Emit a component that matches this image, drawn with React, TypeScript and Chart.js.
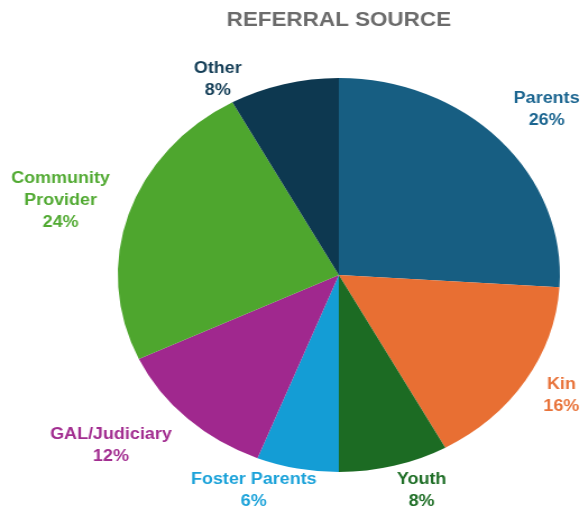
import React, { useEffect, useRef } from "react";
import { Chart, registerables } from "chart.js";

Chart.register(...registerables);

// ---- data ----
const categories = ["Parents", "Kin", "Youth", "Foster Parents", "GAL/Judiciary", "Community Provider", "Other"];
const shares = [26, 16, 8, 6, 12, 24, 8];
const labelLines = [["Parents"], ["Kin"], ["Youth"], ["Foster Parents"], ["GAL/Judiciary"], ["Community", "Provider"], ["Other"]];
const chartTitle = "REFERRAL SOURCE";

// ---- style ----
const sliceColors = ["#175E82", "#E86F33", "#1C6B23", "#149DD5", "#A0288E", "#4EA62E", "#0D3850"];
const labelColors = ["#1B6590", "#E8733A", "#1E6E26", "#1BA2D9", "#A22D90", "#52AA33", "#143E57"];
const labelRadius = [1.259, 1.177, 1.156, 1.159, 1.348, 1.315, 1.133];
const labelAngleNudge = [1.5, -1.2, -4.5, 8.6, 6.7, -1.2, -14.5];
const FONT = "'Liberation Sans', Arial, sans-serif";
const STRETCH = 1.122;
const W = 519;
const H = 508;

const outsideLabels = {
  id: "outsideLabels",
  afterDatasetsDraw(chart: any) {
    const ctx = chart.ctx;
    const meta = chart.getDatasetMeta(0);
    ctx.save();
    ctx.font = `bold 16px ${FONT}`;
    ctx.textAlign = "center";
    ctx.textBaseline = "middle";
    meta.data.forEach((arc: any, i: number) => {
      const p = arc.getProps(["x", "y", "startAngle", "endAngle", "outerRadius"], true);
      const mid = (p.startAngle + p.endAngle) / 2 + (labelAngleNudge[i] * Math.PI) / 180;
      const r = p.outerRadius * labelRadius[i];
      const lx = p.x + Math.cos(mid) * r;
      const ly = p.y + Math.sin(mid) * r;
      const lines = [...labelLines[i], `${shares[i]}%`];
      const lh = 22;
      ctx.fillStyle = labelColors[i];
      lines.forEach((t, j) => {
        ctx.fillText(t, lx, ly + (j - (lines.length - 1) / 2) * lh);
      });
    });
    ctx.restore();
  },
};

export default function App() {
  const ref = useRef<HTMLCanvasElement | null>(null);
  useEffect(() => {
    if (!ref.current) return;
    const chart = new Chart(ref.current, {
      type: "pie",
      data: {
        labels: categories,
        datasets: [
          {
            data: shares,
            backgroundColor: sliceColors,
            borderWidth: 0,
            hoverOffset: 0,
          },
        ],
      },
      options: {
        animation: false,
        responsive: false,
        events: [],
        layout: { padding: { left: 105, right: 20, top: 0, bottom: 36 } },
        plugins: {
          legend: { display: false },
          tooltip: { enabled: false },
          title: {
            display: true,
            text: chartTitle,
            color: "#6B6B6B",
            font: { family: FONT, size: 20, weight: "bold" },
            padding: { top: 8.8, bottom: 45.2 },
          },
        },
      },
      plugins: [outsideLabels],
    });
    return () => chart.destroy();
  }, []);
  return (
    <div style={{ position: "absolute", left: 0, top: 0, width: 582, height: 508, overflow: "hidden", background: "#fff" }}>
      <div style={{ width: W, height: H, transform: `scaleX(${STRETCH})`, transformOrigin: "0 0" }}>
        <canvas ref={ref} width={W} height={H} style={{ display: "block" }} />
      </div>
    </div>
  );
}
